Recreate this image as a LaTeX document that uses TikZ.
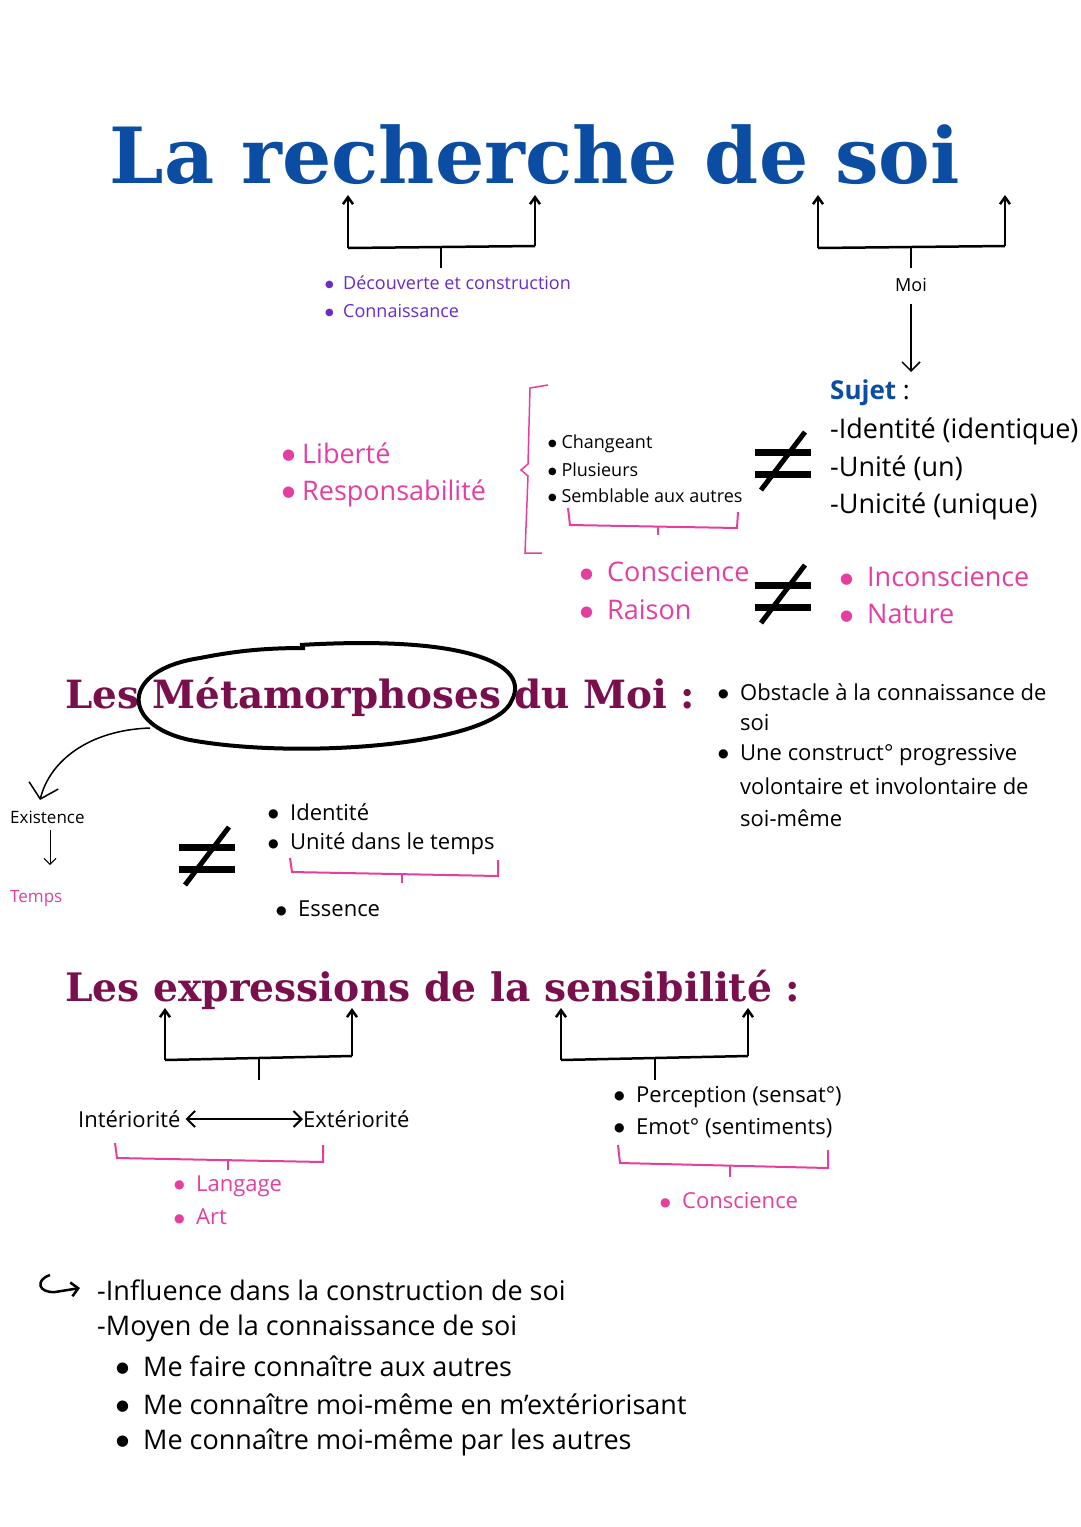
\documentclass[tikz,border=0pt]{standalone}
\usepackage{fontspec}
\usepackage{graphicx}
\setmainfont{Open Sans}
\newfontfamily\titlefont{DejaVu Serif}
\newfontfamily\symfont{DejaVu Sans}
\newcommand{\bul}{\raisebox{0.12em}{\symfont\scalebox{0.55}{●}}}
\usetikzlibrary{arrows.meta}
\definecolor{tblue}{HTML}{0B4DA2}
\definecolor{tpurp}{HTML}{7A0F4E}
\definecolor{tpink}{HTML}{E43FA0}
\definecolor{tviol}{HTML}{6A2BC8}
\tikzset{
 tx/.style={anchor=west,inner sep=0pt,font=\fontsize{22}{26}\selectfont},
 sm/.style={anchor=west,inner sep=0pt,font=\fontsize{18}{22}\selectfont},
 big/.style={anchor=west,inner sep=0pt,font=\fontsize{27}{32}\selectfont},
 br/.style={line width=2.5pt,black},
 uparr/.style={br,-{Straight Barb[length=7pt,width=10pt]}},
 pinkbr/.style={tpink,line width=2pt},
 neq/.style={line width=7pt,black}
}
\newcommand{\neqsign}[2]{%
 \draw[neq] (#1-28,#2-10)--(#1+28,#2-10);
 \draw[neq] (#1-28,#2+12)--(#1+28,#2+12);
 \draw[line width=5pt] (#1-22,#2+28)--(#1+22,#2-30);}
\begin{document}
\begin{tikzpicture}[x=1pt,y=-1pt]
\useasboundingbox[fill=white] (0,0) rectangle (1080,1527);
% title
\node[inner sep=0pt,text=tblue] (title) at (535,155) {\resizebox{850pt}{!}{\titlefont\bfseries La recherche de soi}};
% brackets top
\coordinate (l1) at (348,248); \coordinate (l2) at (535,246); \coordinate (lm) at (441,247);
\draw[br] (l1)--(l2); \draw[uparr] (l1)--(348,195); \draw[uparr] (l2)--(535,195); \draw[br] (lm)--(441,268);
\coordinate (r1) at (818,248); \coordinate (r2) at (1005,246); \coordinate (rm) at (911,247);
\draw[br] (r1)--(r2); \draw[uparr] (r1)--(818,195); \draw[uparr] (r2)--(1005,195); \draw[br] (rm)--(911,268);
\node[sm,text=tviol] (d1) at (325,283) {\bul\ \ Découverte et construction};
\node[sm,text=tviol] (d2) at (325,311) {\bul\ \ Connaissance};
\node[sm,anchor=center] (moi) at (911,285) {Moi};
\draw[line width=1.5pt,-{Straight Barb[length=9pt,width=18pt]}] (moi.south)++(0,12) -- (911,372);
\node[big,font=\fontsize{26}{30}\selectfont] (suj) at (830,393) {\textcolor{tblue}{\bfseries Sujet} :};
\node[big] (s1) at (830,431) {-Identité (identique)};
\node[big] (s2) at (830,468) {-Unité (un)};
\node[big] (s3) at (830,506) {-Unicité (unique)};
\node[big,text=tpink] (lib) at (282,453) {\bul\ Liberté};
\node[big,text=tpink] (resp) at (282,493) {\bul\ Responsabilité};
\draw[pinkbr,line width=1.5pt] (548,385)--(530,388)--(528,464)--(521,470)--(528,476)--(525,553)--(542,553);
\node[sm] (c1) at (548,444) {\bul\ Changeant};
\node[sm] (c2) at (548,470) {\bul\ Plusieurs};
\node[sm] (c3) at (548,496) {\bul\ Semblable aux autres};
\draw[pinkbr] (568,508)--(570,525)--(737,528)--(738,512); \draw[pinkbr] (658,527)--(658,535);
\neqsign{783}{462}
\node[big,text=tpink] (cs) at (580,572) {\bul\ \ Conscience};
\node[big,text=tpink] (ra) at (580,610) {\bul\ \ Raison};
\neqsign{783}{595}
\node[big,text=tpink] (inc) at (840,577) {\bul\ \ Inconscience};
\node[big,text=tpink] (nat) at (840,614) {\bul\ \ Nature};
% metamorphoses
\node[inner sep=0pt,text=tpurp,anchor=west] (meta) at (65,697) {\resizebox{630pt}{!}{\titlefont\bfseries Les Métamorphoses du Moi :}};
\draw[line width=4pt] (300,645) .. controls (470,635) and (530,665) .. (512,700) .. controls (495,745) and (300,760) .. (190,740) .. controls (120,725) and (120,670) .. (200,658) .. controls (240,650) and (270,648) .. (305,648);
\draw[line width=1.5pt,-{Straight Barb[length=14pt,width=30pt]}] (150,728) .. controls (90,730) and (50,760) .. (40,800);
\node[tx] (o1) at (718,692) {\bul\ \ Obstacle à la connaissance de};
\node[tx] (o2) at (740,723) {soi};
\node[tx] (o3) at (718,755) {\bul\ \ Une construct° progressive};
\node[tx] (o4) at (740,786) {volontaire et involontaire de};
\node[tx] (o5) at (740,818) {soi-même};
\node[sm,font=\fontsize{17}{20}\selectfont] (ex) at (10,817) {Existence};
\node[sm,font=\fontsize{17}{20}\selectfont,text=tpink] (tp) at (10,898) {Temps};
\draw[line width=1pt,-{Straight Barb[length=6pt,width=12pt]}] (50,830)--(50,865);
\neqsign{207}{857}
\node[tx] (i1) at (268,812) {\bul\ \ Identité};
\node[tx] (i2) at (268,844) {\bul\ \ Unité dans le temps};
\draw[pinkbr] (290,858)--(292,872)--(498,876)--(498,860); \draw[pinkbr] (402,874)--(402,883);
\node[tx] (es) at (276,909) {\bul\ \ Essence};
% expressions
\node[inner sep=0pt,text=tpurp,anchor=west] (expr) at (65,990) {\resizebox{735pt}{!}{\titlefont\bfseries Les expressions de la sensibilité :}};
\coordinate (a1) at (165,1060); \coordinate (a2) at (352,1056); \coordinate (am) at (259,1058);
\draw[br] (a1)--(a2); \draw[uparr] (a1)--(165,1008); \draw[uparr] (a2)--(352,1008); \draw[br] (am)--(259,1080);
\coordinate (b1) at (561,1060); \coordinate (b2) at (748,1056); \coordinate (bm) at (655,1058);
\draw[br] (b1)--(b2); \draw[uparr] (b1)--(561,1008); \draw[uparr] (b2)--(748,1008); \draw[br] (bm)--(655,1080);
\node[tx] (int) at (78,1119) {Intériorité};
\node[tx] (ext) at (303,1119) {Extériorité};
\draw[line width=2pt,{Straight Barb[length=8pt,width=16pt]}-{Straight Barb[length=8pt,width=16pt]}] (int.east)++(5,0) -- (ext.west);
\draw[pinkbr] (115,1143)--(117,1158)--(323,1162)--(323,1145); \draw[pinkbr] (228,1160)--(228,1170);
\node[tx,text=tpink] (lg) at (174,1186) {\bul\ \ Langage};
\node[tx,text=tpink] (art) at (174,1217) {\bul\ \ Art};
\node[tx] (p1) at (614,1097) {\bul\ \ Perception (sensat°)};
\node[tx] (p2) at (614,1128) {\bul\ \ Emot° (sentiments)};
\draw[pinkbr] (618,1145)--(620,1163)--(828,1168)--(828,1150); \draw[pinkbr] (730,1166)--(730,1177);
\node[tx,text=tpink] (cs2) at (660,1201) {\bul\ \ Conscience};
% bottom
\draw[line width=2.5pt,-{Straight Barb[length=7pt,width=14pt]}] (50,1275) .. controls (35,1280) and (38,1293) .. (55,1292) -- (80,1288);
\node[big] (b1t) at (97,1290) {-Influence dans la construction de soi};
\node[big] (b2t) at (97,1328) {-Moyen de la connaissance de soi};
\node[big] (b3t) at (116,1366) {\bul\ \ Me faire connaître aux autres};
\node[big] (b4t) at (116,1404) {\bul\ \ Me connaître moi-même en m’extériorisant};
\node[big] (b5t) at (116,1442) {\bul\ \ Me connaître moi-même par les autres};
\end{tikzpicture}
\end{document}
